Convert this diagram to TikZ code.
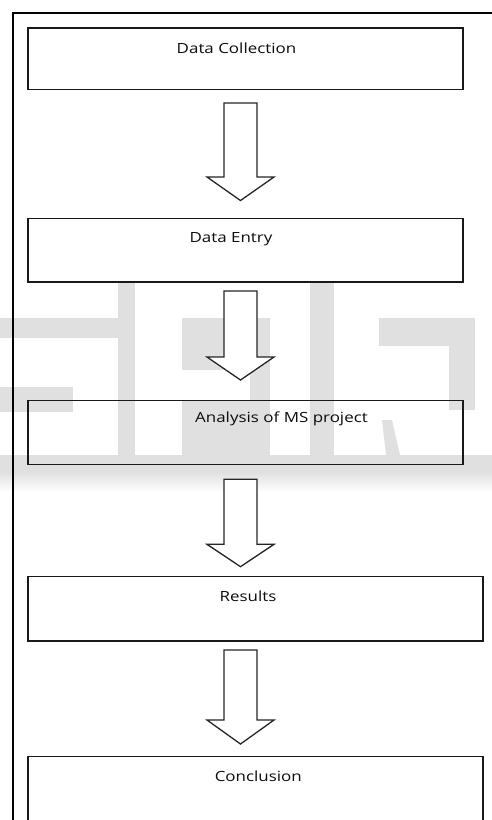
\documentclass[tikz,border=0pt]{standalone}
\usepackage{fontspec}
\setmainfont{Open Sans}[FakeStretch=1.21]
\begin{document}
\begin{tikzpicture}[x=1pt,y=-1pt,
  wm/.style={fill=black!12,draw=none},
  frame/.style={draw=black,line width=1.1pt},
  boxst/.style={draw=black!90,line width=1.5pt,rectangle,inner sep=0pt},
  arrowst/.style={draw=black!85,fill=white,line width=1.3pt,line join=miter},
  lbl/.style={font=\fontsize{14}{16}\selectfont,text=black!95,inner sep=0pt,anchor=base},
  pics/blkarrow/.style 2 args={code={
    \draw[arrowst] (-16.5,0) -- (16.5,0) -- (16.5,#1) -- (33.5,#1) -- (0,#2)
      -- (-33.5,#1) -- (-16.5,#1) -- cycle;}}]
\clip (0,0) rectangle (492,820);
\fill[white] (0,0) rectangle (492,820);
% watermark
\fill[wm] (0,318) rectangle (135,338);
\fill[wm] (118,283) rectangle (135,457);
\fill[wm] (0,387) rectangle (73,412);
\fill[wm] (182,318) rectangle (270,370);
\fill[wm] (182,400) rectangle (270,457);
\fill[wm] (250,370) rectangle (270,400);
\fill[wm] (310,283) rectangle (334,457);
\fill[wm] (379,318) rectangle (475,346);
\fill[wm] (449,318) rectangle (475,410);
\fill[wm] (382,420) -- (392,420) -- (400,455) -- (386,455) -- cycle;
\fill[wm] (0,455) rectangle (492,472);
\shade[top color=black!12,bottom color=white] (0,472) rectangle (492,492);
% frame
\draw[frame] (13,820) -- (13,13) -- (492,13);
% boxes
\node[boxst,minimum width=434.7pt,minimum height=61.5pt,anchor=north west] (b1) at (27.3,27) {};
\node[boxst,minimum width=434.7pt,minimum height=63.5pt,anchor=north west] (b2) at (27.3,217.5) {};
\node[boxst,minimum width=434.7pt,minimum height=64pt,anchor=north west] (b3) at (27.3,399.5) {};
\node[boxst,minimum width=454.7pt,minimum height=64.2pt,anchor=north west] (b4) at (27.3,575.8) {};
\node[boxst,minimum width=454.7pt,minimum height=90pt,anchor=north west] (b5) at (27.3,755.5) {};
% labels
\node[lbl] (t1) at (236.5,53) {Data Collection};
\node[lbl] (t2) at (231,242.7) {Data Entry};
\node[lbl] (t3) at (281.5,422.7) {Analysis of MS project};
\node[lbl] (t4) at (248,601) {Results};
\node[lbl] (t5) at (258.3,781) {Conclusion};
% block arrows
\pic (a1) at (240.5,103) {blkarrow={74}{97.5}};
\pic (a2) at (240.5,291) {blkarrow={66}{89}};
\pic (a3) at (240.5,479.3) {blkarrow={65}{87.4}};
\pic (a4) at (240.5,650) {blkarrow={70}{94}};
\end{tikzpicture}
\end{document}
